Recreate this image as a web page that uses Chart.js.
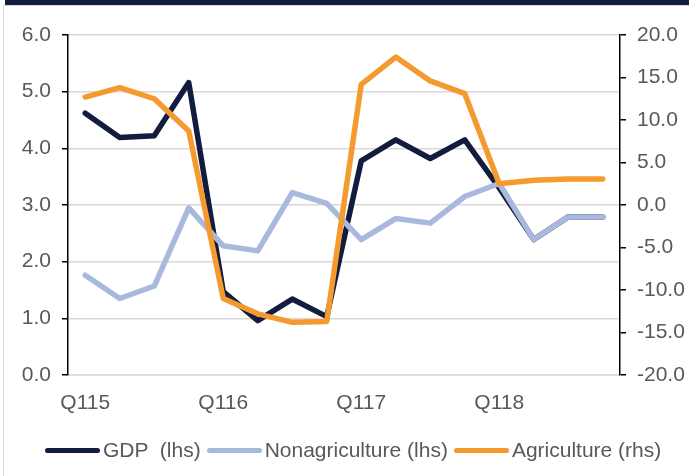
<!DOCTYPE html>
<html lang="en">
<head>
  <meta charset="UTF-8">
  <title>GDP growth by sector</title>
  <style>
    body {
      margin: 0;
      background: #fff;
      font-family: "Liberation Sans", Arial, sans-serif;
    }
    .wrap {
      position: relative;
      width: 689px;
      height: 476px;
      overflow: hidden;
    }
    .band {
      position: absolute;
      left: 5px;
      top: 0;
      width: 684px;
      height: 5px;
      background: #111c3f;
    }
    .frame {
      position: absolute;
      left: 3px;
      top: 5px;
      width: 700px;
      height: 480px;
      border-left: 1.5px solid #d9d9d9;
      border-top: 1.5px solid #d9d9d9;
      pointer-events: none;
    }
    #legend {
      position: absolute;
      left: 45px;
      top: 437px;
      display: flex;
      align-items: center;
      font-size: 21px;
      line-height: 26px;
      color: #595959;
      white-space: pre;
    }
    #legend .item {
      display: flex;
      align-items: center;
      margin-right: 6px;
    }
    #legend .swatch {
      width: 55px;
      height: 5px;
      border-radius: 3px;
      margin-right: 3px;
    }
  </style>
</head>
<body>
<div class="wrap">
  <canvas id="myChart" width="689" height="476"></canvas>
  <div class="band"></div>
  <div class="frame"></div>
  <div id="legend"></div>
</div>

<script src="https://cdn.jsdelivr.net/npm/chart.js"></script>
<script>
  // quarters Q1 2015 .. Q4 2018, only Q1 of each year is labelled
  const categories = ['Q115', 'Q215', 'Q315', 'Q415', 'Q116', 'Q216', 'Q316', 'Q416',
                      'Q117', 'Q217', 'Q317', 'Q417', 'Q118', 'Q218', 'Q318', 'Q418'];

  const gdp = [4.62, 4.19, 4.22, 5.16, 1.47, 0.96, 1.34, 1.03, 3.78, 4.15, 3.82, 4.15, 3.30, 2.39, 2.79, 2.79];
  const nonagriculture = [1.76, 1.35, 1.57, 2.95, 2.28, 2.19, 3.22, 3.03, 2.39, 2.76, 2.68, 3.15, 3.38, 2.39, 2.79, 2.79];
  const agriculture = [12.7, 13.8, 12.5, 8.7, -11.0, -12.8, -13.8, -13.7, 14.2, 17.4, 14.6, 13.1, 2.5, 2.9, 3.05, 3.05];

  const leftTicks = [0, 1, 2, 3, 4, 5, 6];
  const rightTicks = [-20, -15, -10, -5, 0, 5, 10, 15, 20];

  const seriesNames = ['GDP  (lhs)', 'Nonagriculture (lhs)', 'Agriculture (rhs)'];
  const seriesColors = ['#111c3f', '#a9b9de', '#f59a2f'];

  const tickFont = { family: '"Liberation Sans", Arial, sans-serif', size: 21 };

  const ctx = document.getElementById('myChart').getContext('2d');
  new Chart(ctx, {
    type: 'line',
    data: {
      labels: categories,
      datasets: [
        { label: seriesNames[0], data: gdp, borderColor: seriesColors[0], yAxisID: 'y', order: 3 },
        { label: seriesNames[1], data: nonagriculture, borderColor: seriesColors[1], yAxisID: 'y', order: 2 },
        { label: seriesNames[2], data: agriculture, borderColor: seriesColors[2], yAxisID: 'y1', order: 1 }
      ]
    },
    options: {
      responsive: false,
      animation: false,
      layout: { padding: { top: 35, left: 0, right: 0, bottom: 0 } },
      plugins: {
        legend: { display: false },
        tooltip: { enabled: false }
      },
      elements: {
        point: { radius: 0 },
        line: { borderWidth: 5.5, borderCapStyle: 'round', borderJoinStyle: 'round', tension: 0, fill: false }
      },
      scales: {
        x: {
          offset: true,
          grid: { display: false },
          border: { display: true, color: '#d9d9d9', width: 1.5 },
          ticks: {
            autoSkip: false,
            maxRotation: 0,
            padding: 8,
            color: '#595959',
            font: tickFont,
            callback: (v, i) => (i % 4 === 0 ? categories[i] : '')
          },
          afterFit: s => { s.height = 101; }
        },
        y: {
          position: 'left',
          min: 0,
          max: 6,
          afterBuildTicks: s => { s.ticks = leftTicks.map(v => ({ value: v })); },
          ticks: { callback: v => v.toFixed(1), padding: 11, color: '#595959', font: tickFont },
          grid: { color: '#d9d9d9', lineWidth: 1.5, tickColor: '#000', tickLength: 6 },
          border: { color: '#000', width: 1.5 },
          afterFit: s => { s.width = 68; }
        },
        y1: {
          position: 'right',
          min: -20,
          max: 20,
          afterBuildTicks: s => { s.ticks = rightTicks.map(v => ({ value: v })); },
          ticks: { callback: v => v.toFixed(1), padding: 11, color: '#595959', font: tickFont },
          grid: { drawOnChartArea: false, tickColor: '#000', tickLength: 6, lineWidth: 1.5 },
          border: { color: '#000', width: 1.5 },
          afterFit: s => { s.width = 69; }
        }
      }
    }
  });

  // legend
  const legend = document.getElementById('legend');
  seriesNames.forEach((name, i) => {
    const item = document.createElement('div');
    item.className = 'item';
    item.innerHTML = `<span class="swatch" style="background:${seriesColors[i]}"></span><span>${name}</span>`;
    legend.appendChild(item);
  });
</script>
</body>
</html>
